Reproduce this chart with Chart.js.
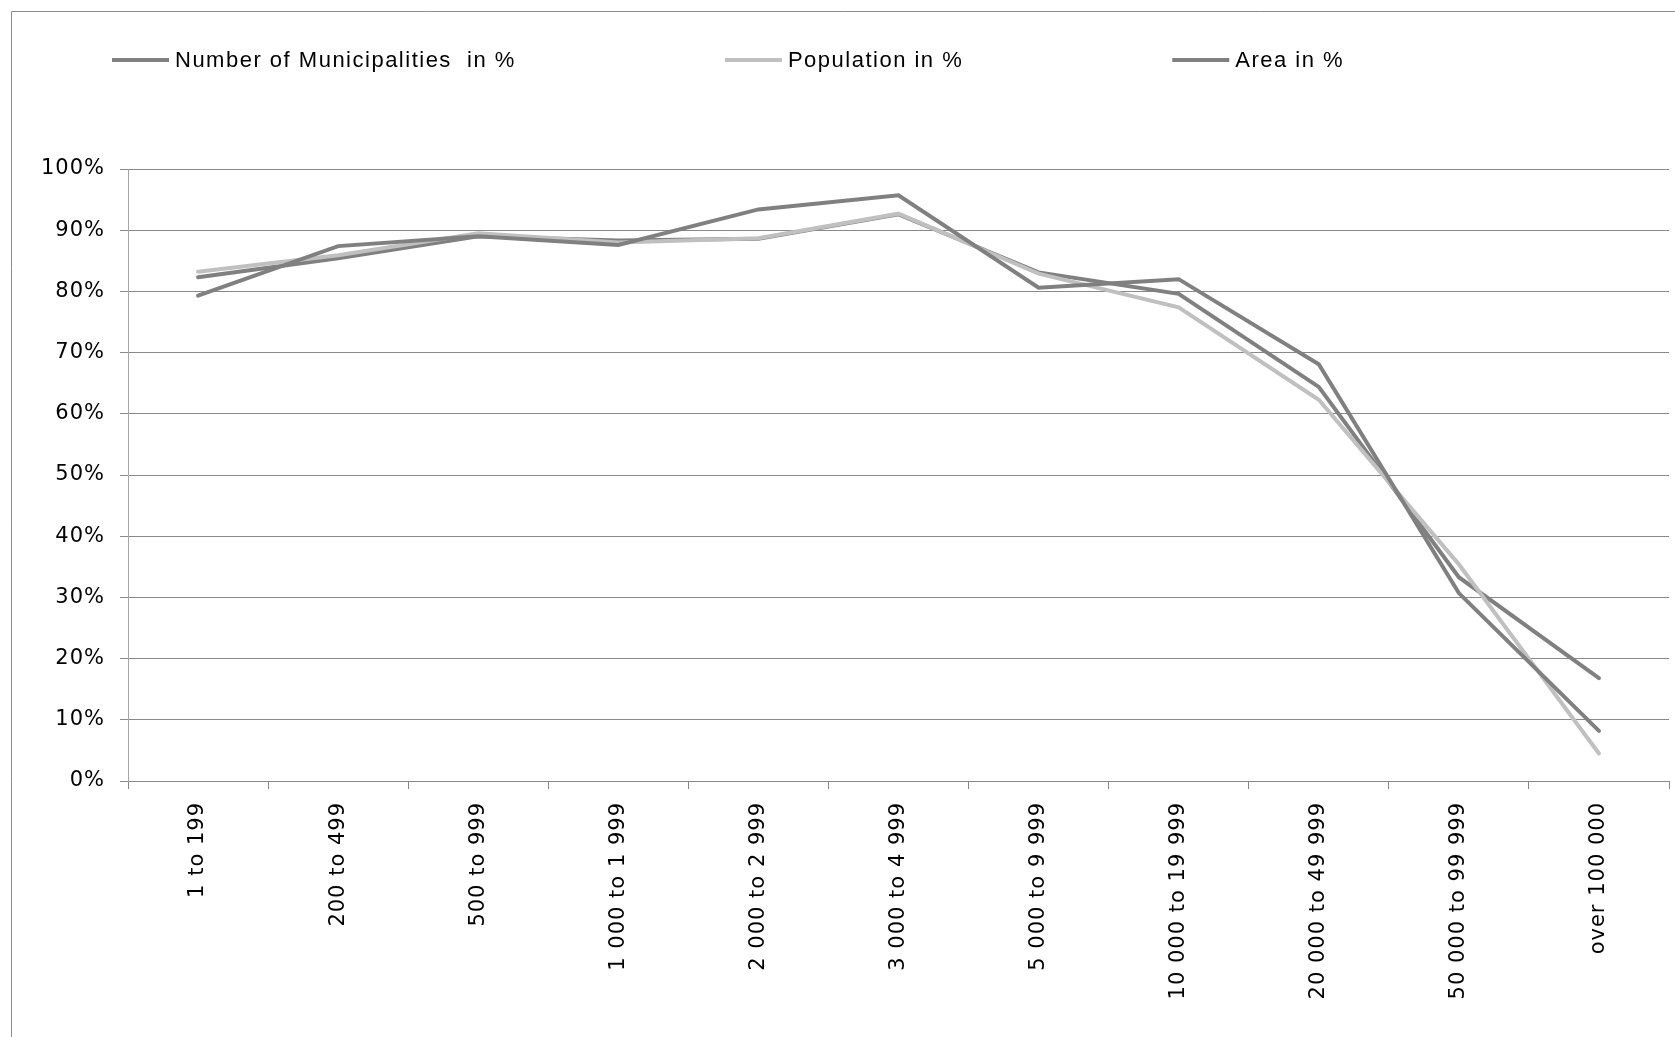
<!DOCTYPE html>
<html>
<head>
<meta charset="utf-8">
<script src="https://cdn.jsdelivr.net/npm/chart.js@4.4.1/dist/chart.umd.min.js"></script>
<style>
  html, body { margin: 0; padding: 0; background: #ffffff; }
  #wrap { width: 1675px; height: 1037px; }
</style>
</head>
<body>
<div id="wrap"><canvas id="sizeChart" width="1675" height="1037"></canvas></div>
<script>
/* ================================
   Municipalities by size class — line chart
   ================================ */

// size classes (x axis)
const sizeClasses = [
  '1 to 199', '200 to 499', '500 to 999', '1 000 to 1 999', '2 000 to 2 999',
  '3 000 to 4 999', '5 000 to 9 999', '10 000 to 19 999', '20 000 to 49 999',
  '50 000 to 99 999', 'over 100 000'
];

// series values, in %
const municipalitiesPct = [82.3, 85.4, 89.0, 88.3, 88.6, 92.6, 83.1, 79.6, 64.4, 33.3, 16.8];
const populationPct     = [83.2, 85.9, 89.5, 88.0, 88.7, 92.7, 82.9, 77.4, 62.3, 35.4, 4.5];
const areaPct           = [79.3, 87.4, 89.0, 87.6, 93.4, 95.7, 80.6, 82.0, 68.1, 30.7, 8.2];

// y axis ticks
const yTickValues = [0, 10, 20, 30, 40, 50, 60, 70, 80, 90, 100];

const seriesLabels = ['Number of Municipalities  in %', 'Population in %', 'Area in %'];
const DARK = '#808080';
const LIGHT = '#c0c0c0';
const GRID = '#898989';

// outer frame of the chart object (left + top edge)
const framePlugin = {
  id: 'frame',
  beforeDraw(chart) {
    const ctx = chart.ctx;
    ctx.save();
    ctx.fillStyle = '#ffffff';
    ctx.fillRect(0, 0, chart.width, chart.height);
    ctx.strokeStyle = '#8c8c8c';
    ctx.lineWidth = 1;
    ctx.beginPath();
    ctx.moveTo(chart.width, 11.5);
    ctx.lineTo(11.5, 11.5);
    ctx.lineTo(11.5, chart.height);
    ctx.stroke();
    ctx.restore();
    // tracking of the tick labels
    ctx.letterSpacing = '1px';
  }
};

// legend row on top (line sample + text), spaced like the original
const legendRowPlugin = {
  id: 'legendRow',
  afterDraw(chart) {
    const ctx = chart.ctx;
    ctx.save();
    ctx.letterSpacing = '1.5px';
    ctx.font = '22px "Liberation Sans", Arial, sans-serif';
    ctx.textBaseline = 'middle';
    ctx.textAlign = 'left';
    let x = 112;
    const y = 60;
    chart.data.datasets.forEach(ds => {
      ctx.strokeStyle = ds.borderColor;
      ctx.lineWidth = 4;
      ctx.beginPath();
      ctx.moveTo(x, y);
      ctx.lineTo(x + 57, y);
      ctx.stroke();
      ctx.fillStyle = '#000000';
      ctx.fillText(ds.label, x + 63, y + 1);
      x += 63 + ctx.measureText(ds.label).width + 209;
    });
    ctx.restore();
  }
};

const ctxSize = document.getElementById('sizeChart').getContext('2d');
const sizeChart = new Chart(ctxSize, {
  type: 'line',
  data: {
    labels: sizeClasses,
    datasets: [
      { label: seriesLabels[0], data: municipalitiesPct, borderColor: DARK, backgroundColor: DARK, order: 3 },
      { label: seriesLabels[1], data: populationPct, borderColor: LIGHT, backgroundColor: LIGHT, order: 2 },
      { label: seriesLabels[2], data: areaPct, borderColor: DARK, backgroundColor: DARK, order: 1 }
    ]
  },
  options: {
    responsive: false,
    animation: false,
    devicePixelRatio: 1,
    layout: { padding: { top: 169, right: 6, bottom: 0, left: 0 } },
    elements: {
      line: { borderWidth: 4, tension: 0, borderCapStyle: 'round', borderJoinStyle: 'miter' },
      point: { radius: 0, hoverRadius: 0 }
    },
    plugins: {
      legend: { display: false },
      tooltip: { enabled: false }
    },
    scales: {
      x: {
        offset: true,
        grid: { offset: true, drawOnChartArea: false, drawTicks: true, tickLength: 8, color: GRID },
        border: { display: true, color: GRID },
        ticks: {
          autoSkip: false,
          minRotation: 90,
          maxRotation: 90,
          padding: 13,
          color: '#000000',
          font: { family: '"DejaVu Sans", Verdana, sans-serif', size: 21 }
        },
        afterFit(scale) { scale.height = 256; }
      },
      y: {
        min: 0,
        max: 100,
        afterBuildTicks(scale) { scale.ticks = yTickValues.map(v => ({ value: v })); },
        grid: { color: GRID, lineWidth: 1, tickLength: 8, drawTicks: true },
        border: { display: true, color: '#a6a6a6' },
        ticks: {
          padding: 15,
          color: '#000000',
          font: { family: '"DejaVu Sans", Verdana, sans-serif', size: 21 },
          callback: v => v + '%'
        },
        afterFit(scale) { scale.width = 128; }
      }
    }
  },
  plugins: [framePlugin, legendRowPlugin]
});
</script>
</body>
</html>
